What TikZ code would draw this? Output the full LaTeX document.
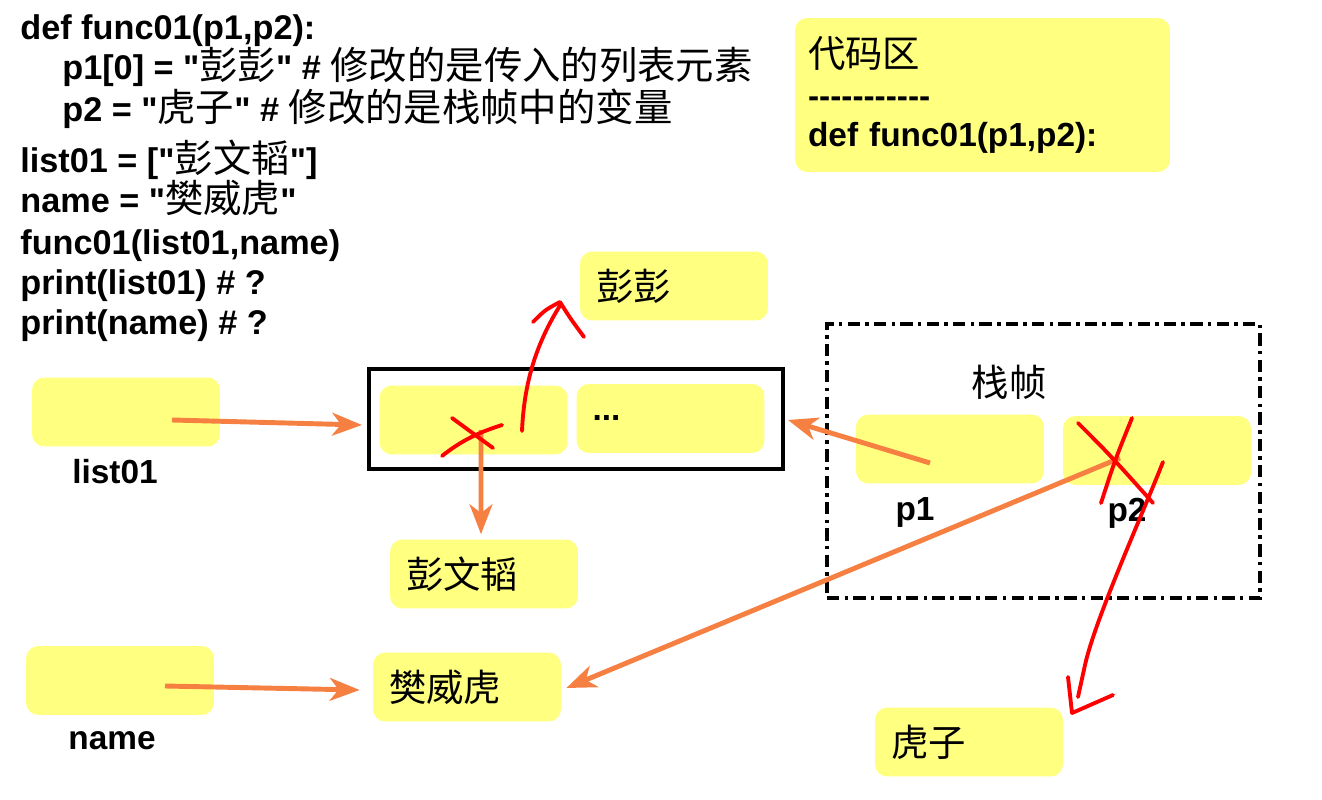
\documentclass[tikz,border=0pt]{standalone}
\usepackage{fontspec}
\setmainfont{Liberation Sans}[Ligatures=TeXOff]
\newfontfamily\zhfont{Noto Sans CJK SC}[Scale=1.12]
\newcommand{\zh}[1]{{\zhfont\mdseries #1}}
\usetikzlibrary{arrows.meta,calc}

\definecolor{noteyellow}{RGB}{255,255,128}
\definecolor{linkorange}{RGB}{246,128,66}

\tikzset{
  cell/.style={fill=noteyellow, rounded corners=7pt, minimum width=3.76cm, minimum height=1.38cm,
    inner xsep=0.32cm, text width=3.12cm, align=left, font=\fontsize{19}{23}\selectfont},
  codeline/.style={anchor=base west, inner sep=0pt, font=\bfseries\fontsize{19.5}{23}\selectfont},
  varlabel/.style={font=\bfseries\fontsize{19}{23}\selectfont},
  link/.style={linkorange, line width=2.8pt, -{Stealth[length=17pt,width=13pt,inset=5pt]}},
  redpen/.style={red, line width=2.2pt, line cap=round, line join=round}
}

\begin{document}
\begin{tikzpicture}[x=0.02cm, y=-0.02cm]
    \useasboundingbox (0,0) rectangle (1322,800);

    % code
    \node[codeline] (code1) at (20,40) {def func01(p1,p2):};
    \node[codeline] (code2) at (62,80) {p1[0] = "\zh{彭彭}" \# \zh{修改的是传入的列表元素}};
    \node[codeline] (code3) at (62,122) {p2 = "\zh{虎子}" \# \zh{修改的是栈帧中的变量}};
    \node[codeline] (code4) at (20,173) {list01 = ["\zh{彭文韬}"]};
    \node[codeline] (code5) at (20,213) {name = "\zh{樊威虎}"};
    \node[codeline] (code6) at (20,255) {func01(list01,name)};
    \node[codeline] (code7) at (20,295) {print(list01) \# ?};
    \node[codeline] (code8) at (20,335) {print(name) \# ?};

    \node[fill=noteyellow, rounded corners=7pt, minimum width=7.5cm, minimum height=3.08cm,
      inner xsep=0.26cm, text width=6.98cm, align=left, font=\fontsize{19}{22.7}\selectfont]
      (codebox) at (982.5,95) {\zh{代码区}\\\textbf{-----------}\\\textbf{def func01(p1,p2):}};

    % list object
    \node[draw, line width=2.3pt, minimum width=8.28cm, minimum height=2cm, inner sep=0pt] (listbox) at (576,419) {};
    \node[cell] (cellA) at (473.5,420) {};
    \node[cell] (cellB) at (670.5,418.5) {\textbf{...}};

    \node[cell] (pengpeng) at (674,286) {\zh{彭彭}};
    \node[cell] (pengwentao) at (484,574) {\zh{彭文韬}};
    \node[cell] (fanweihu) at (467,687) {\zh{樊威虎}};
    \node[cell] (huzi) at (969,742) {\zh{虎子}};

    % variables
    \node[cell] (varlist) at (126,412) {};
    \node[varlabel] (lbllist) at (115,472) {list01};
    \node[cell] (varname) at (120,680.5) {};
    \node[varlabel] (lblname) at (112,741) {name};

    % stack frame
    \node[draw, line width=2.2pt, dash pattern=on 7pt off 3pt on 2pt off 3pt,
      minimum width=8.66cm, minimum height=5.48cm, inner sep=0pt] (stackframe) at (1043.5,461) {};
    \node[font=\fontsize{19}{23}\selectfont] (frametitle) at (1009,382) {\zh{栈帧}};
    \node[cell] (p1cell) at (950,449) {};
    \node[varlabel] (lblp1) at (915,512) {p1};
    \node[cell] (p2cell) at (1157,450.5) {};
    \node[varlabel] (lblp2) at (1127,513) {p2};

    % references
    \draw[link] ($(varlist.center)+(46,8)$) -- ($(listbox.west)+(-5,6)$);
    \draw[link] ($(varname.center)+(45,5.5)$) -- ($(fanweihu.west)+(-13,3)$);
    \draw[link] ($(p1cell.center)+(-20,14)$) -- ($(listbox.east)+(3,1)$);
    \draw[link] ($(p2cell.center)+(-37,7.5)$) -- ($(fanweihu.east)+(5,1)$);
    \draw[link] ($(cellA.center)+(7.5,10)$) -- ($(pengwentao.north)+(-3,-5)$);

    % hand-drawn marks
    \draw[redpen] (442,456) .. controls (462,440) and (480,432) .. (502,425);
    \draw[redpen] (452,418) -- (493,448);
    \draw[redpen] (522,431) .. controls (524,385) and (535,345) .. (561,304);
    \draw[redpen] (533,322) .. controls (545,310) .. (560,302) .. controls (570,318) .. (584,337);

    \draw[redpen] (1078,423) .. controls (1110,455) .. (1153,503);
    \draw[redpen] (1132,418) .. controls (1115,460) .. (1101,503);
    \draw[redpen] (1163,462) .. controls (1140,520) and (1095,620) .. (1085,665) -- (1078,697);
    \draw[redpen] (1068,677) -- (1072,713) -- (1113,695);
\end{tikzpicture}
\end{document}
